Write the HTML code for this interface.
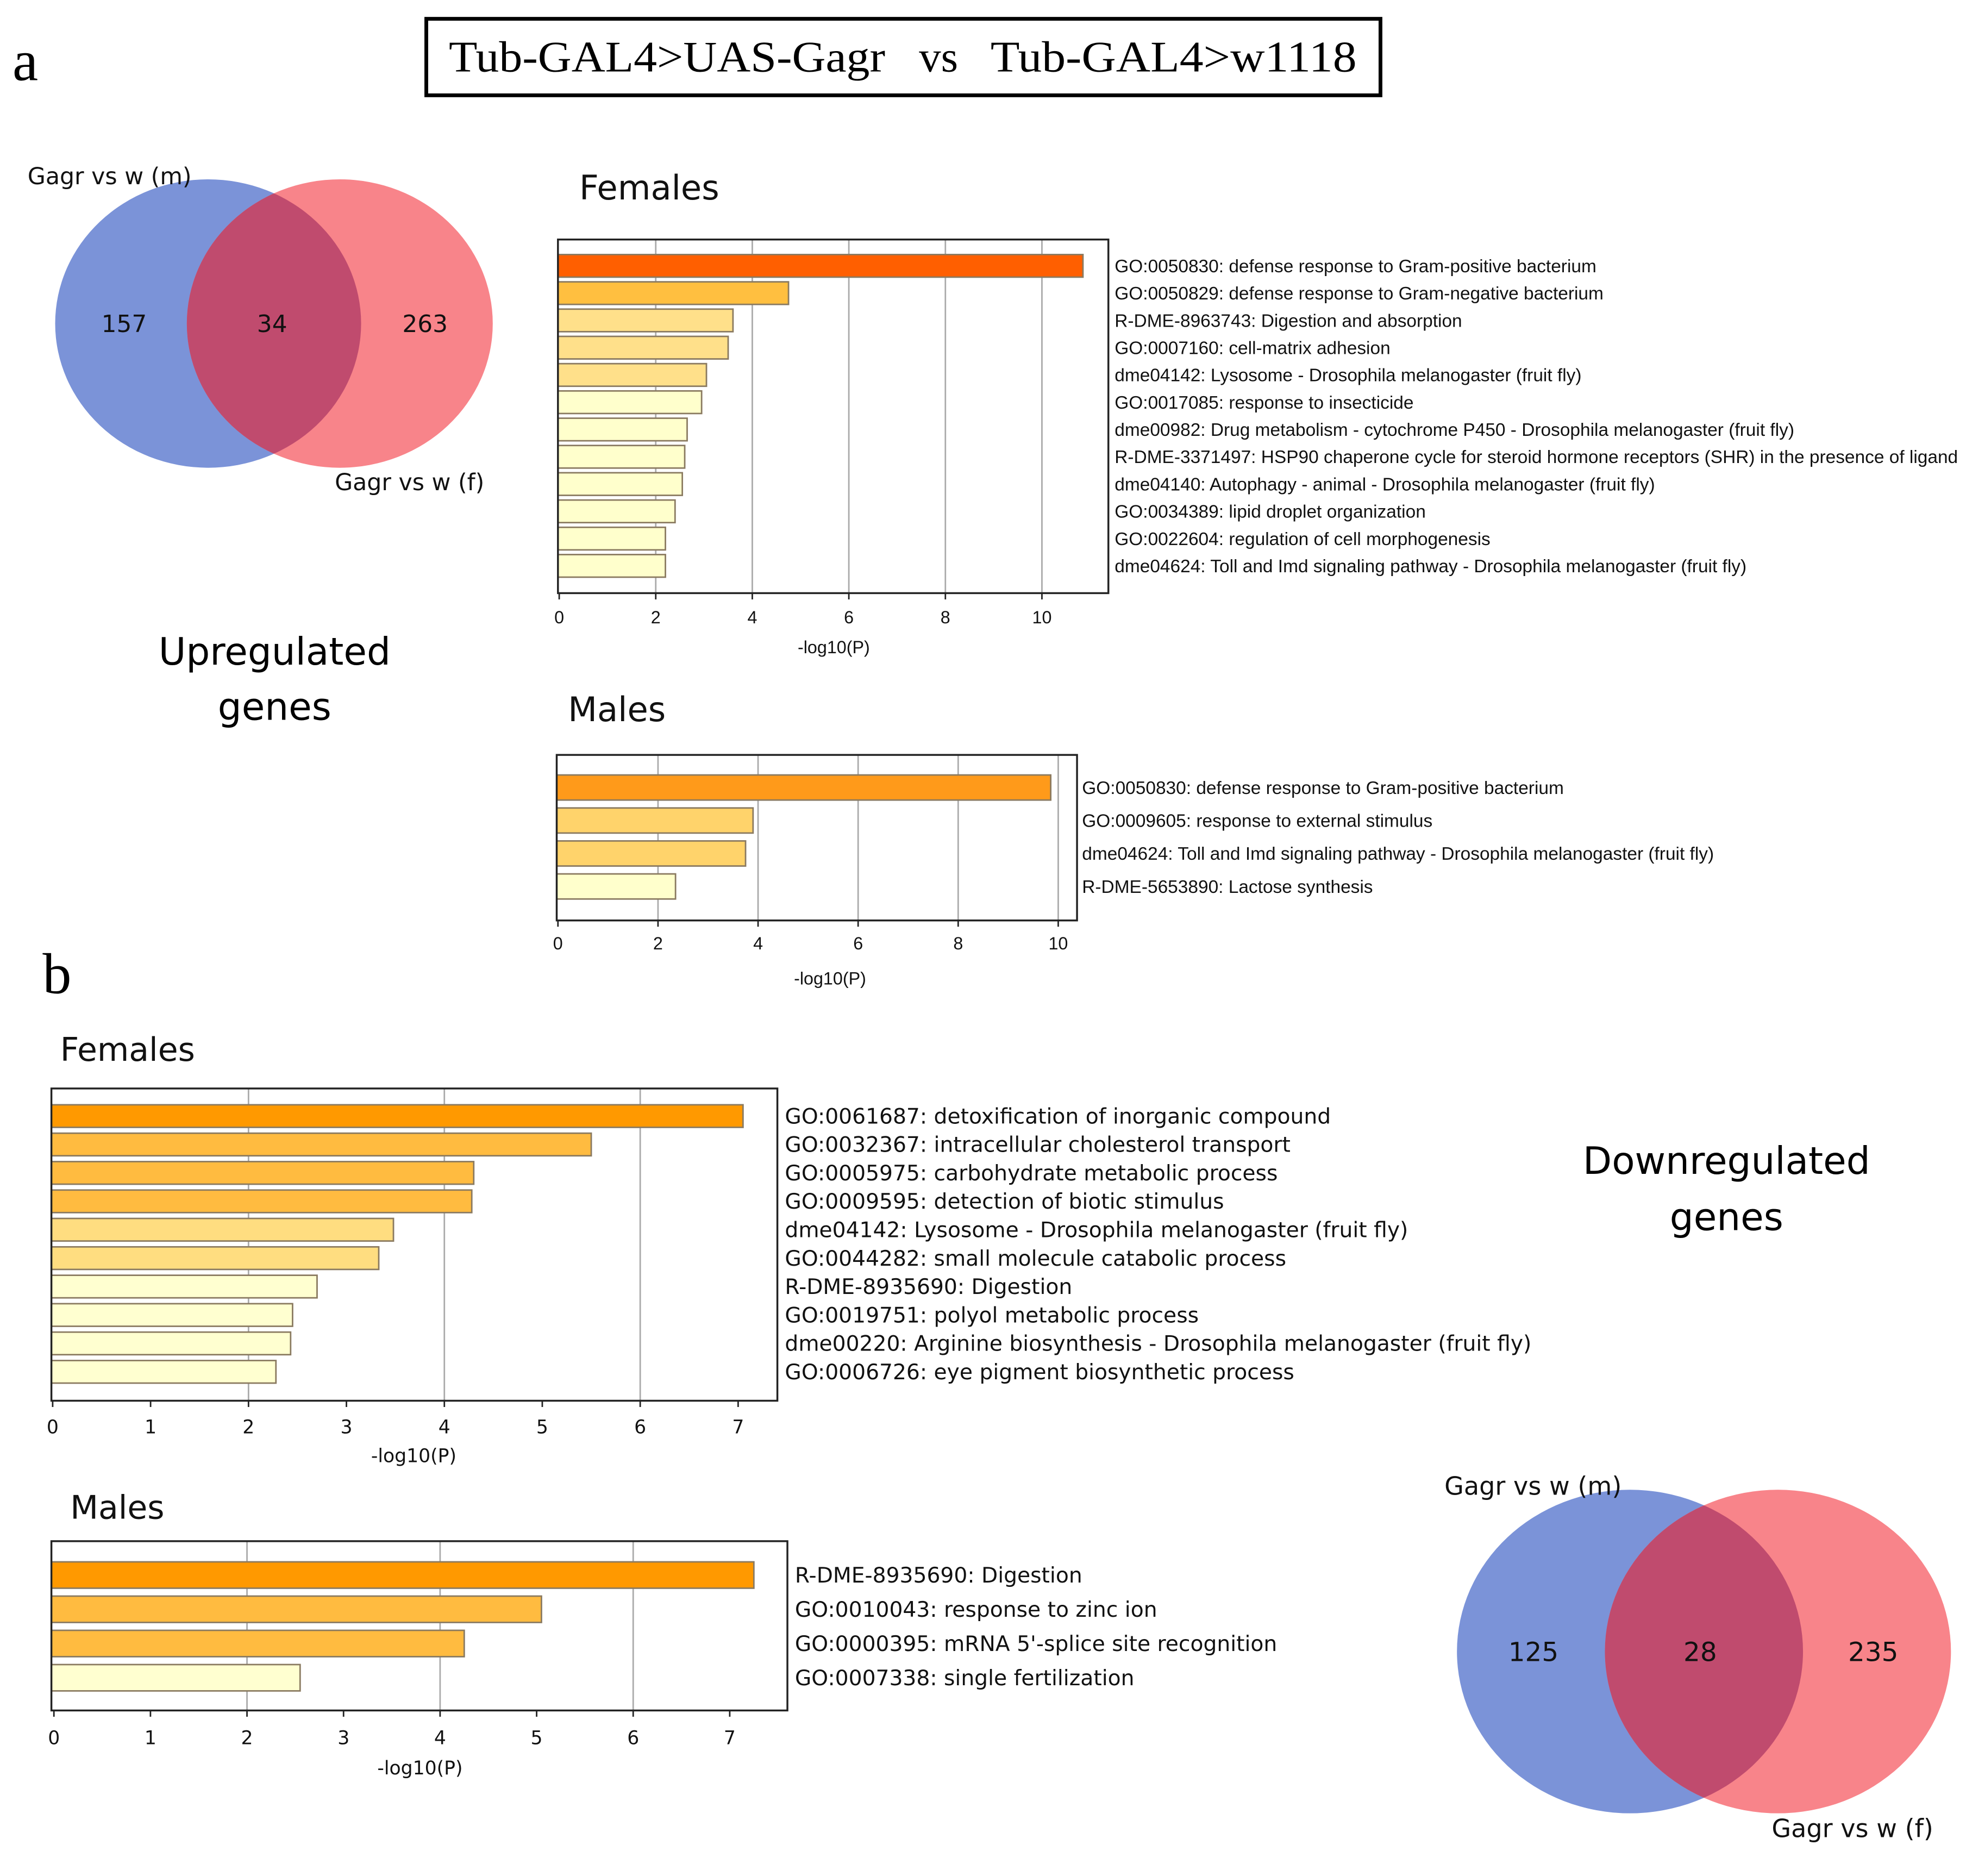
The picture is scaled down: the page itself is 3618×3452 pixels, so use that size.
<!DOCTYPE html>
<html><head><meta charset="utf-8"><style>
html,body{margin:0;padding:0;background:#fff;}
svg{display:block;}
</style></head><body>
<svg id="fig" width="3618" height="3452" viewBox="0 0 1568 1496" preserveAspectRatio="none" xmlns="http://www.w3.org/2000/svg">
<rect x="0" y="0" width="1568" height="1496" fill="#fff"/>
<text x="10" y="64" font-family="Liberation Serif, serif" font-size="46">a</text>
<text x="34" y="792" font-family="Liberation Serif, serif" font-size="46">b</text>
<rect x="340" y="15" width="761" height="61" fill="none" stroke="#000" stroke-width="3"/>
<text x="358" y="57" textLength="348" lengthAdjust="spacingAndGlyphs" font-family="Liberation Serif, serif" font-size="35">Tub-GAL4&gt;UAS-Gagr</text>
<text x="733" y="57" font-family="Liberation Serif, serif" font-size="35">vs</text>
<text x="790" y="57" textLength="292" lengthAdjust="spacingAndGlyphs" font-family="Liberation Serif, serif" font-size="35">Tub-GAL4&gt;w1118</text>
<text font-family="DejaVu Sans, sans-serif" font-size="30" text-anchor="middle"><tspan x="219" y="530">Upregulated</tspan><tspan x="219" y="574">genes</tspan></text>
<text font-family="DejaVu Sans, sans-serif" font-size="30" text-anchor="middle"><tspan x="1377" y="936">Downregulated</tspan><tspan x="1377" y="981">genes</tspan></text>
<g id="charts"></g>
<g id="venns"></g>
</svg>
<script>
const upFemTerms=["GO:0050830: defense response to Gram-positive bacterium","GO:0050829: defense response to Gram-negative bacterium","R-DME-8963743: Digestion and absorption","GO:0007160: cell-matrix adhesion","dme04142: Lysosome - Drosophila melanogaster (fruit fly)","GO:0017085: response to insecticide","dme00982: Drug metabolism - cytochrome P450 - Drosophila melanogaster (fruit fly)","R-DME-3371497: HSP90 chaperone cycle for steroid hormone receptors (SHR) in the presence of ligand","dme04140: Autophagy - animal - Drosophila melanogaster (fruit fly)","GO:0034389: lipid droplet organization","GO:0022604: regulation of cell morphogenesis","dme04624: Toll and Imd signaling pathway - Drosophila melanogaster (fruit fly)"];
const upFemValues=[10.85,4.75,3.6,3.5,3.05,2.95,2.65,2.6,2.55,2.4,2.2,2.2];
const upFemColors=["#ff5f00","#ffbf40","#ffe08a","#ffe08a","#ffe08a","#ffffcc","#ffffcc","#ffffcc","#ffffcc","#ffffcc","#ffffcc","#ffffcc"];
const upFemTicks=[0,2,4,6,8,10];
const upMalTerms=["GO:0050830: defense response to Gram-positive bacterium","GO:0009605: response to external stimulus","dme04624: Toll and Imd signaling pathway - Drosophila melanogaster (fruit fly)","R-DME-5653890: Lactose synthesis"];
const upMalValues=[9.85,3.9,3.75,2.35];
const upMalColors=["#ff9a1a","#ffd36b","#ffd36b","#ffffcc"];
const upMalTicks=[0,2,4,6,8,10];
const dnFemTerms=["GO:0061687: detoxification of inorganic compound","GO:0032367: intracellular cholesterol transport","GO:0005975: carbohydrate metabolic process","GO:0009595: detection of biotic stimulus","dme04142: Lysosome - Drosophila melanogaster (fruit fly)","GO:0044282: small molecule catabolic process","R-DME-8935690: Digestion","GO:0019751: polyol metabolic process","dme00220: Arginine biosynthesis - Drosophila melanogaster (fruit fly)","GO:0006726: eye pigment biosynthetic process"];
const dnFemValues=[7.05,5.5,4.3,4.28,3.48,3.33,2.7,2.45,2.43,2.28];
const dnFemColors=["#ff9900","#ffbb40","#ffbb40","#ffbb40","#ffdd80","#ffdd80","#ffffd0","#ffffd0","#ffffd0","#ffffd0"];
const dnFemTicks=[0,1,2,3,4,5,6,7];
const dnMalTerms=["R-DME-8935690: Digestion","GO:0010043: response to zinc ion","GO:0000395: mRNA 5'-splice site recognition","GO:0007338: single fertilization"];
const dnMalValues=[7.25,5.05,4.25,2.55];
const dnMalColors=["#ff9900","#ffbb40","#ffbb40","#ffffd0"];
const dnMalTicks=[0,1,2,3,4,5,6,7];
const vennUpCounts=[157,34,263];
const vennDnCounts=[125,28,235];

const NS="http://www.w3.org/2000/svg";
function mk(tag,attrs,parent){const e=document.createElementNS(NS,tag);for(const k in attrs)e.setAttribute(k,attrs[k]);parent.appendChild(e);return e;}
const charts=document.getElementById('charts');

function chart(cfg,terms,values,colors,ticks,gridTicks){
  const g=mk('g',{},charts);
  
  
  const x=v=>cfg.x0+(v)*cfg.unit;
  const yc=i=>cfg.y0+i*cfg.pitch;
  gridTicks.forEach(t=>{const l=mk('line',{x1:x(t),x2:x(t),y1:cfg.top,y2:cfg.bottom,stroke:'#aaa','stroke-width':1.2},g);
    });
  values.forEach((v,i)=>{
    const r=mk('rect',{x:cfg.left,y:yc(i)-cfg.bh/2,width:x(v)-cfg.left,height:cfg.bh,fill:colors[i],stroke:'#8a7a60','stroke-width':1.2},g);
    
    const t=mk('text',{x:cfg.lx,y:yc(i)+cfg.fs*0.35,'font-family':cfg.font,'font-size':cfg.fs,fill:'#111'},g);
    t.textContent=terms[i];
    
  });
  const b=mk('rect',{x:cfg.left,y:cfg.top,width:cfg.right-cfg.left,height:cfg.bottom-cfg.top,fill:'none',stroke:'#222','stroke-width':1.5},g);
  
  ticks.forEach(t=>{
    const l=mk('line',{x1:x(t),x2:x(t),y1:cfg.bottom,y2:cfg.bottom+5,stroke:'#222','stroke-width':1.2},g);
    
    const tx=mk('text',{x:x(t),y:cfg.tickY,'text-anchor':'middle','font-family':cfg.font,'font-size':cfg.tfs,fill:'#111'},g);
    tx.textContent=String(t);
    
  });
  const xl=mk('text',{x:cfg.xlX,y:cfg.xlY,'text-anchor':'middle','font-family':cfg.font,'font-size':cfg.tfs,fill:'#111'},g);
  xl.textContent='-log10(P)';
  
  const tt=mk('text',{x:cfg.titleX,y:cfg.titleY,'font-family':'DejaVu Sans, sans-serif','font-size':cfg.titleFs,fill:'#111'},g);
  tt.textContent=cfg.title;
  
}
const narrow='Liberation Sans Narrow, Liberation Sans, sans-serif';
chart({name:'up-females-chart',left:445,right:884,top:191,bottom:473,x0:446,unit:38.5,y0:212,pitch:21.75,bh:18,lx:889,fs:14.5,font:narrow,tfs:14,tickY:497,xlX:665,xlY:521,title:'Females',titleX:462,titleY:159,titleFs:27},upFemTerms,upFemValues,upFemColors,upFemTicks,[2,4,6,8,10]);
chart({name:'up-males-chart',left:444,right:859,top:602,bottom:734,x0:445,unit:39.9,y0:628,pitch:26.3,bh:20,lx:863,fs:14.5,font:narrow,tfs:14,tickY:757,xlX:662,xlY:785,title:'Males',titleX:453,titleY:575,titleFs:27},upMalTerms,upMalValues,upMalColors,upMalTicks,[2,4,6,8,10]);
chart({name:'down-females-chart',left:41,right:620,top:868,bottom:1117,x0:42,unit:78.1,y0:890,pitch:22.66,bh:18,lx:626,fs:17,font:'DejaVu Sans, sans-serif',tfs:15,tickY:1143,xlX:330,xlY:1166,title:'Females',titleX:48,titleY:846,titleFs:26},dnFemTerms,dnFemValues,dnFemColors,dnFemTicks,[2,4,6]);
chart({name:'down-males-chart',left:41,right:628,top:1229,bottom:1364,x0:43,unit:77,y0:1256,pitch:27.3,bh:21,lx:634,fs:17,font:'DejaVu Sans, sans-serif',tfs:15,tickY:1391,xlX:335,xlY:1415,title:'Males',titleX:56,titleY:1211,titleFs:26},dnMalTerms,dnMalValues,dnMalColors,dnMalTicks,[2,4,6]);

const venns=document.getElementById('venns');
function venn(cfg,counts){
  const g=mk('g',{},venns);
  
  
  const defs=mk('defs',{},g);
  const cp=mk('clipPath',{id:cfg.name+'-clip'},defs);
  mk('ellipse',{cx:cfg.cx1,cy:cfg.cy,rx:cfg.rx,ry:cfg.ry},cp);
  const a=mk('ellipse',{cx:cfg.cx1,cy:cfg.cy,rx:cfg.rx,ry:cfg.ry,fill:'#7b93d8'},g);
  
  const b=mk('ellipse',{cx:cfg.cx2,cy:cfg.cy,rx:cfg.rx,ry:cfg.ry,fill:'#f8848a'},g);
  
  const c=mk('ellipse',{cx:cfg.cx2,cy:cfg.cy,rx:cfg.rx,ry:cfg.ry,fill:'#c04b6e','clip-path':'url(#'+cfg.name+'-clip)'},g);
  
  const xs=[cfg.n1x,cfg.n2x,cfg.n3x];
  counts.forEach((n,i)=>{const t=mk('text',{x:xs[i],y:cfg.cy+cfg.fs*0.36,'text-anchor':'middle','font-family':'DejaVu Sans, sans-serif','font-size':cfg.fs,fill:'#111'},g);
    t.textContent=String(n);});
  const l1=mk('text',{x:cfg.l1x,y:cfg.l1y,'font-family':'DejaVu Sans, sans-serif','font-size':cfg.lfs,fill:'#111'},g);
  l1.textContent='Gagr vs w (m)';
  const l2=mk('text',{x:cfg.l2x,y:cfg.l2y,'font-family':'DejaVu Sans, sans-serif','font-size':cfg.lfs,fill:'#111'},g);
  l2.textContent='Gagr vs w (f)';
}
venn({name:'venn-up',cx1:166,cx2:271,cy:258,rx:122,ry:115,n1x:99,n2x:217,n3x:339,fs:19,lfs:18.5,l1x:22,l1y:147,l2x:267,l2y:391},vennUpCounts);
venn({name:'venn-down',cx1:1300,cx2:1418,cy:1317,rx:138,ry:129,n1x:1223,n2x:1356,n3x:1494,fs:21,lfs:20,l1x:1152,l1y:1192,l2x:1413,l2y:1465},vennDnCounts);
</script>
</body></html>
